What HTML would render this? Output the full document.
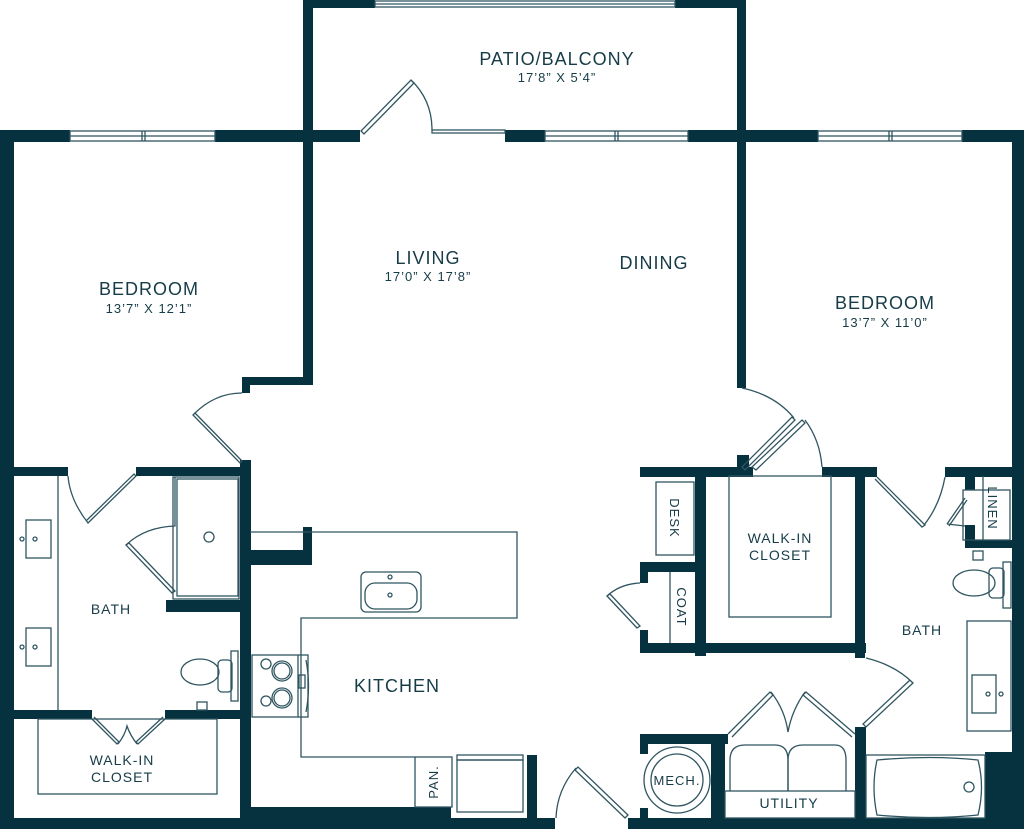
<!DOCTYPE html>
<html><head><meta charset="utf-8"><style>
html,body{margin:0;padding:0;background:#fff;}
svg{display:block;}
text{font-family:"Liberation Sans",sans-serif;fill:#163c48;letter-spacing:1px;}
</style></head><body>
<svg width="1024" height="829" viewBox="0 0 1024 829" xmlns="http://www.w3.org/2000/svg">
<g fill="#06313e">
<rect x="0" y="130" width="14" height="699"/>
<rect x="0" y="130" width="70" height="12"/>
<rect x="215" y="130" width="145" height="12"/>
<rect x="505" y="130" width="40" height="12"/>
<rect x="688" y="130" width="130" height="12"/>
<rect x="962" y="130" width="62" height="12"/>
<rect x="1012" y="130" width="12" height="699"/>
<rect x="0" y="818" width="555" height="11"/>
<rect x="628" y="818" width="396" height="11"/>
<rect x="303" y="0" width="72" height="8"/>
<rect x="675" y="0" width="71" height="8"/>
<rect x="303" y="0" width="10" height="385"/>
<rect x="737" y="0" width="9" height="388"/>
<rect x="242" y="377" width="70" height="8"/>
<rect x="242" y="377" width="8" height="16"/>
<rect x="0" y="467" width="68" height="9"/>
<rect x="136" y="467" width="114" height="9"/>
<rect x="240" y="460" width="11" height="369"/>
<rect x="166" y="600" width="74" height="12"/>
<rect x="0" y="710" width="92" height="9"/>
<rect x="165" y="710" width="75" height="9"/>
<rect x="250" y="550" width="62" height="15"/>
<rect x="303" y="527" width="9" height="38"/>
<rect x="251" y="807" width="200" height="11"/>
<rect x="527" y="755" width="10" height="63"/>
<rect x="737" y="455" width="12" height="20"/>
<rect x="640" y="467" width="113" height="10"/>
<rect x="822" y="467" width="55" height="10"/>
<rect x="945" y="467" width="67" height="10"/>
<rect x="695" y="476" width="11" height="180"/>
<rect x="855" y="476" width="10" height="182"/>
<rect x="640" y="643" width="226" height="10"/>
<rect x="640" y="562" width="65" height="10"/>
<rect x="640" y="572" width="8" height="11"/>
<rect x="640" y="630" width="8" height="13"/>
<rect x="965" y="467" width="10" height="23"/>
<rect x="965" y="525" width="10" height="23"/>
<rect x="965" y="540" width="47" height="8"/>
<rect x="640" y="734" width="88" height="10"/>
<rect x="640" y="744" width="8" height="10"/>
<rect x="640" y="808" width="8" height="10"/>
<rect x="711" y="734" width="14" height="84"/>
<rect x="855" y="727" width="11" height="91"/>
<rect x="985" y="752" width="27" height="66"/>
</g>
<g fill="none" stroke="#2f5560" stroke-width="1.3">
<rect x="70" y="131" width="145" height="10"/><line x1="70" y1="136" x2="215" y2="136"/><line x1="142" y1="131" x2="142" y2="141"/><line x1="145" y1="131" x2="145" y2="141"/>
<rect x="375" y="1" width="300" height="6"/><line x1="375" y1="4" x2="675" y2="4"/>
<rect x="545" y="131" width="143" height="10"/><line x1="545" y1="136" x2="688" y2="136"/><line x1="615" y1="131" x2="615" y2="141"/><line x1="618" y1="131" x2="618" y2="141"/>
<rect x="818" y="131" width="144" height="10"/><line x1="818" y1="136" x2="962" y2="136"/><line x1="889" y1="131" x2="889" y2="141"/><line x1="892" y1="131" x2="892" y2="141"/>
<rect x="432" y="130" width="73" height="3"/>
<path d="M361 131 L411 80 L414 83 L364 134 Z"/><path d="M411 80 Q432 100 432 130"/>
<path d="M195 413 L242 461 L240 463 L193 415 Z"/><path d="M194 414 Q215 393 242 393"/>
<path d="M742 467 L792 417 L795 420 L745 470 Z"/><path d="M742 388 Q775 395 794 418"/>
<path d="M752 467 L802 420 L805 423 L756 470 Z"/><path d="M805 420 Q820 440 822 467"/>
<path d="M68 476 Q70 500 88 523 L136 476 L134 474 L86 521"/>
<path d="M126 545 L172 593 L175 591 L129 543 Z"/><path d="M126 545 Q145 527 175 526 L175 477"/>
<path d="M92 719 L117 744 L119 742 L94 717"/><path d="M165 719 L138 744 L136 742 L163 717"/><path d="M118 744 Q125 735 127 726 Q130 735 137 744"/>
<path d="M877 477 L925 525 L922 527 L875 479"/><path d="M924 525 Q940 505 945 477"/>
<path d="M947 524 L965 498"/><path d="M949 526 L967 500"/><path d="M947 524 L965 526"/>
<path d="M607 596 L637 628 L640 626 L610 594 Z"/><path d="M607 596 Q620 584 640 583"/>
<path d="M575 770 L625 818 L628 815 L578 767 Z"/><path d="M576 768 Q557 790 556 818"/>
<path d="M866 658 Q895 665 913 683 L866 727 L863 724 L910 680"/>
<path d="M728 734 L770 692 L773 695 L732 737"/><path d="M855 734 L806 692 L803 695 L852 737"/><path d="M771 692 Q785 710 788 732 Q792 710 805 692"/>
<line x1="58" y1="476" x2="58" y2="710"/>
<rect x="26" y="520" width="25" height="38"/><circle cx="22" cy="539" r="2"/><circle cx="35" cy="539" r="2"/>
<rect x="26" y="628" width="25" height="38"/><circle cx="22" cy="647" r="2"/><circle cx="35" cy="647" r="2"/>
<rect x="173" y="477" width="66" height="122"/><rect x="177" y="479" width="61" height="117"/><circle cx="209" cy="537" r="5"/>
<ellipse cx="200" cy="672" rx="19" ry="13"/><rect x="218" y="660" width="14" height="32" rx="4"/><rect x="231" y="651" width="7" height="50"/>
<rect x="197" y="702" width="10" height="8"/>
<rect x="38" y="719" width="179" height="75"/>
<path d="M250 532 L517 532 L517 618 L301 618 L301 757 L415 757"/>
<rect x="361" y="572" width="60" height="40" rx="5"/><rect x="365" y="583" width="52" height="26" rx="10"/><circle cx="390" cy="577" r="2"/><circle cx="390" cy="595" r="2"/>
<rect x="252" y="655" width="56" height="62"/><line x1="298" y1="655" x2="298" y2="717"/>
<circle cx="266" cy="664" r="5"/><circle cx="282" cy="671" r="10"/><circle cx="282" cy="671" r="8"/>
<circle cx="266" cy="701" r="5"/><circle cx="282" cy="698" r="10"/><circle cx="282" cy="698" r="8"/>
<rect x="299" y="675" width="6" height="13"/><path d="M306 660 Q311 686 306 712"/>
<rect x="415" y="757" width="37" height="50"/>
<rect x="457" y="755" width="66" height="5"/><rect x="457" y="760" width="66" height="52"/>
<rect x="656" y="482" width="38" height="73"/>
<line x1="670" y1="572" x2="670" y2="643"/>
<rect x="729" y="476" width="102" height="141"/>
<rect x="963" y="490" width="47" height="50"/><line x1="983" y1="476" x2="983" y2="540"/>
<rect x="973" y="551" width="10" height="9"/>
<ellipse cx="974" cy="583" rx="21" ry="13"/><rect x="989" y="568" width="15" height="30" rx="4"/><rect x="1003" y="562" width="8" height="46"/>
<rect x="967" y="621" width="44" height="110"/><rect x="972" y="675" width="24" height="38"/><circle cx="988" cy="694" r="2"/><circle cx="1001" cy="694" r="2"/>
<rect x="866" y="755" width="119" height="63"/>
<path d="M877 760 Q930 755 978 760 Q985 787 978 815 Q930 820 877 815 Q871 787 877 760 Z"/><circle cx="969" cy="787" r="5"/>
<circle cx="677" cy="780" r="33"/><circle cx="677" cy="780" r="26"/>
<rect x="725" y="791" width="130" height="27"/>
<path d="M730 791 L730 760 Q730 745 745 745 L775 745 Q788 745 788 760 L788 791"/>
<path d="M788 791 L788 760 Q788 745 803 745 L835 745 Q846 745 846 760 L846 791"/>
</g>
<g text-anchor="middle">
<text x="557" y="65" font-size="18">PATIO/BALCONY</text>
<text x="557" y="82" font-size="13">17’8” X 5’4”</text>
<text x="428" y="264" font-size="18">LIVING</text>
<text x="428" y="281" font-size="13">17’0” X 17’8”</text>
<text x="654" y="269" font-size="18">DINING</text>
<text x="149" y="295" font-size="18">BEDROOM</text>
<text x="149" y="313" font-size="13">13’7” X 12’1”</text>
<text x="885" y="309" font-size="18">BEDROOM</text>
<text x="885" y="327" font-size="13">13’7” X 11’0”</text>
<text x="111" y="614" font-size="14">BATH</text>
<text x="922" y="635" font-size="14">BATH</text>
<text x="122" y="765" font-size="14">WALK-IN</text>
<text x="122" y="782" font-size="14">CLOSET</text>
<text x="780" y="543" font-size="14">WALK-IN</text>
<text x="780" y="560" font-size="14">CLOSET</text>
<text x="397" y="692" font-size="18">KITCHEN</text>
<text x="677" y="785" font-size="13" letter-spacing="0">MECH.</text>
<text x="789" y="808" font-size="14">UTILITY</text>
<text transform="translate(670,518) rotate(90)" font-size="13">DESK</text>
<text transform="translate(677,607) rotate(90)" font-size="13">COAT</text>
<text transform="translate(988,508) rotate(90)" font-size="13">LINEN</text>
<text transform="translate(438,782) rotate(-90)" font-size="13">PAN.</text>
</g>
</svg>
</body></html>
